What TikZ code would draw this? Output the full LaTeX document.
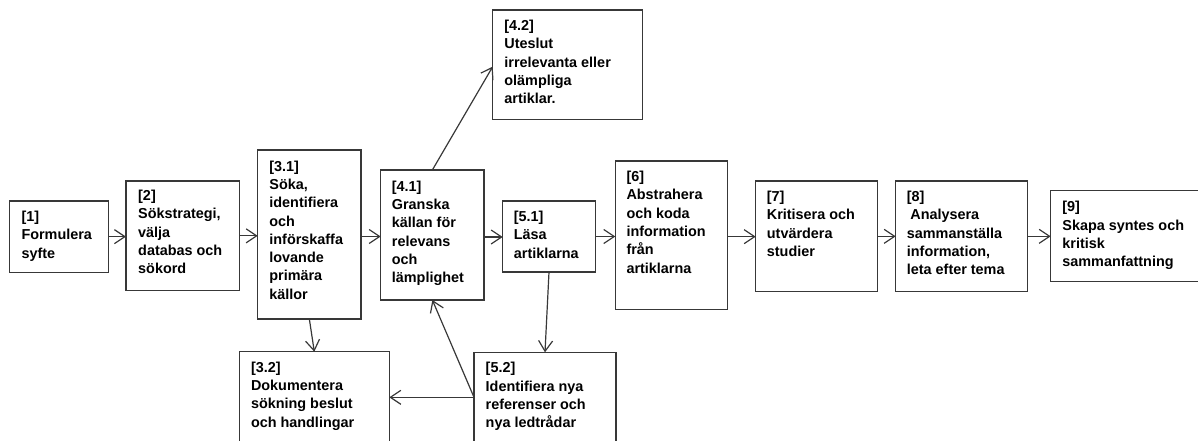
\documentclass[tikz,border=0pt]{standalone}
\usepackage{fontspec}
\setmainfont{Liberation Sans}
\usetikzlibrary{arrows.meta,calc}
\begin{document}
\begin{tikzpicture}[x=1pt,y=-1pt,
  box/.style={draw=black!78, line width=1.4pt, rectangle, inner sep=0pt, outer sep=0pt, anchor=north west},
  txt/.style={anchor=north west, inner sep=0pt, align=left, text=black, font=\fontsize{14.4}{18.3}\selectfont\bfseries},
  arr/.style={draw=black!78, line width=1.2pt, -{Straight Barb[length=10.5pt,width=14pt,line width=1.2pt]}}]
\useasboundingbox (0,0) rectangle (1198,441);
\clip (0,0) rectangle (1198,441);
% boxes
\node[box, minimum width=99pt, minimum height=71.3pt] (b1) at (9.3,201) {};
\node[box, minimum width=113.3pt, minimum height=109.7pt] (b2) at (126,181) {};
\node[box, minimum width=103.3pt, minimum height=169pt] (b31) at (257.7,150) {};
\node[box, minimum width=150pt, minimum height=108.3pt] (b32) at (239.3,351.7) {};
\node[box, minimum width=103.3pt, minimum height=130pt] (b41) at (380.7,170) {};
\node[box, minimum width=150pt, minimum height=109.3pt] (b42) at (492.7,10) {};
\node[box, minimum width=92.6pt, minimum height=71pt] (b51) at (502.7,201) {};
\node[box, minimum width=142pt, minimum height=108pt] (b52) at (474,352.3) {};
\node[box, minimum width=112pt, minimum height=148.3pt] (b6) at (615.3,161) {};
\node[box, minimum width=122pt, minimum height=110.7pt] (b7) at (755.7,181) {};
\node[box, minimum width=131.6pt, minimum height=110.7pt] (b8) at (895.7,181) {};
\node[box, minimum width=165pt, minimum height=90.6pt] (b9) at (1050.7,190.7) {};
% texts
\node[txt] (t1) at ($(b1.north west)+(12,10)$) {[1]\\Formulera\\syfte};
\node[txt] (t2) at ($(b2.north west)+(12,9)$) {[2]\\Sökstrategi,\\välja\\databas och\\sökord};
\node[txt] (t31) at ($(b31.north west)+(11.5,10.5)$) {[3.1]\\Söka,\\identifiera\\och\\införskaffa\\lovande\\primära\\källor};
\node[txt] (t32) at ($(b32.north west)+(11.5,10)$) {[3.2]\\Dokumentera\\sökning beslut\\och handlingar};
\node[txt] (t41) at ($(b41.north west)+(11,10.5)$) {[4.1]\\Granska\\källan för\\relevans\\och\\lämplighet};
\node[txt] (t42) at ($(b42.north west)+(11.5,10)$) {[4.2]\\Uteslut\\irrelevanta eller\\olämpliga\\artiklar.};
\node[txt] (t51) at ($(b51.north west)+(11,10)$) {[5.1]\\Läsa\\artiklarna};
\node[txt] (t52) at ($(b52.north west)+(11.5,10)$) {[5.2]\\Identifiera nya\\referenser och\\nya ledtrådar};
\node[txt] (t6) at ($(b6.north west)+(11,10)$) {[6]\\Abstrahera\\och koda\\information\\från\\artiklarna};
\node[txt] (t7) at ($(b7.north west)+(11,10)$) {[7]\\Kritisera och\\utvärdera\\studier};
\node[txt] (t8) at ($(b8.north west)+(11,10)$) {[8]\\\hspace{3.5pt}Analysera\\sammanställa\\information,\\leta efter tema};
\node[txt] (t9) at ($(b9.north west)+(11.5,10.5)$) {[9]\\Skapa syntes och\\kritisk\\sammanfattning};
% connectors
\draw[arr] (b1.east) -- (b1.east -| b2.west);
\draw[arr] (b2.east) -- (b2.east -| b31.west);
\draw[arr] ($(b31.east)+(0,2)$) -- ($(b31.east -| b41.west)+(0,2)$);
\draw[arr] ($(b41.east)+(0,2)$) -- ($(b41.east -| b51.west)+(0,2)$);
\draw[arr] (b51.east) -- (b51.east -| b6.west);
\draw[arr] ($(b6.east)+(0,1.5)$) -- ($(b6.east -| b7.west)+(0,1.5)$);
\draw[arr] (b7.east) -- (b7.east -| b8.west);
\draw[arr] (b8.east) -- (b8.east -| b9.west);
\draw[arr] (b41.north) -- ($(b42.west)+(0,2)$);
\draw[arr] (b31.south) -- (b32.north);
\draw[arr] (b51.south) -- (b52.north);
\coordinate (p52) at ($(b52.north west)+(0,45)$);
\draw[arr] (p52) -- (b41.south);
\draw[arr] (p52) -- (p52 -| b32.east);
\end{tikzpicture}
\end{document}
